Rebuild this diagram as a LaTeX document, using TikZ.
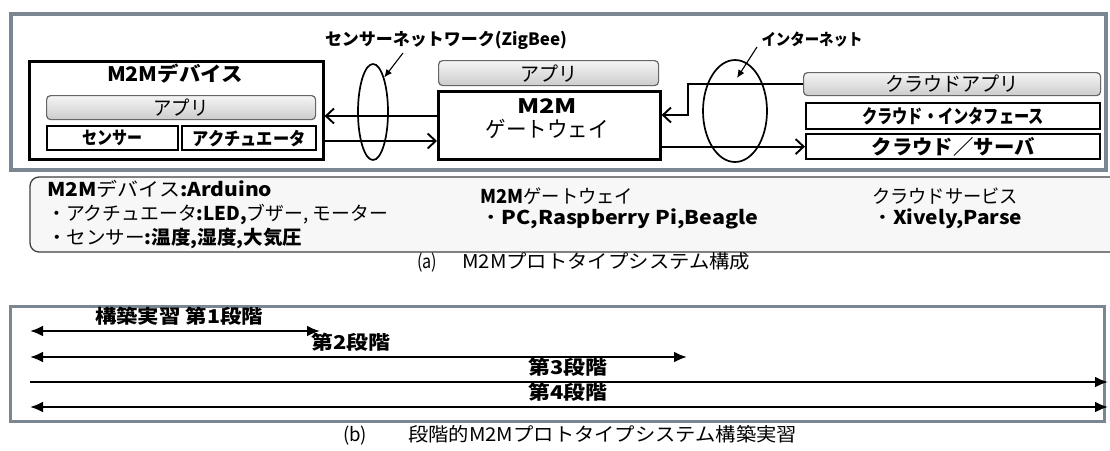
\documentclass[tikz,border=0pt]{standalone}
\usepackage{fontspec}
\usepackage{graphicx}
\setmainfont{Noto Sans CJK JP}
\usetikzlibrary{arrows.meta,shapes.geometric}
\definecolor{framegray}{RGB}{122,134,146}
\newcommand\fs[1]{\fontsize{#1pt}{#1pt}\selectfont}
\newcommand\fw[2]{\resizebox{#1pt}{\height}{#2}}
\begin{document}
\begin{tikzpicture}[x=1pt,y=-1pt,
  box/.style={draw,line width=2.6pt,anchor=north west,inner sep=0pt},
  sbox/.style={draw,line width=2.2pt,anchor=north west,inner sep=0pt},
  appbox/.style={draw=black!60,line width=1.2pt,rounded corners=4pt,top color=gray!8,bottom color=gray!40,anchor=north west,inner sep=0pt},
  lbl/.style={inner sep=0pt,text height=0.8em,text depth=0.2em},
  info/.style={lbl,anchor=west,font=\fs{19}},
  ell/.style={ellipse,draw,line width=1.7pt,inner sep=0pt},
  conn/.style={line width=1.9pt,-{Straight Barb[length=8pt,width=15pt]}},
  pointer/.style={line width=1.1pt,-{Latex[length=8pt,width=7pt]}},
  stage/.style={line width=2.3pt,{Latex[length=13pt,width=11pt]}-{Latex[length=13pt,width=11pt]}},
  stageR/.style={line width=2.3pt,-{Latex[length=13pt,width=11pt]}}
]
\useasboundingbox (0,0) rectangle (1110,450);
\fill[white] (0,0) rectangle (1110,450);

% ---------- (a) frame ----------
\draw[framegray,line width=3.5pt] (11,14) rectangle (1106,170);

% M2M device
\node[box,minimum width=294pt,minimum height=98pt] (dev) at (28,60) {};
\node[lbl,font=\fs{20}\bfseries] (devt) at (175,78) {\fw{136}{M2Mデバイス}};
\node[appbox,minimum width=269pt,minimum height=24pt,font=\fs{20}] (dapp) at (46,95) {\fw{55}{アプリ}};
\node[sbox,minimum width=131pt,minimum height=24pt,font=\fs{18}\bfseries] (sen) at (46,125) {\fw{60}{センサー}};
\node[sbox,minimum width=134pt,minimum height=24pt,font=\fs{18}\bfseries] (act) at (181,125) {\fw{113}{アクチュエータ}};

% gateway
\node[appbox,minimum width=220pt,minimum height=25pt,font=\fs{20}] (gapp) at (438,60) {\fw{57}{アプリ}};
\node[box,minimum width=222pt,minimum height=68pt] (gw) at (437,90) {};
\node[lbl,font=\fs{20}\bfseries] (gwt1) at (547,110) {\fw{60}{M2M}};
\node[lbl,font=\fs{22}] (gwt2) at (547,134) {\fw{123}{ゲートウェイ}};

% cloud
\node[appbox,minimum width=297pt,minimum height=23pt,font=\fs{20}] (capp) at (803,72) {\fw{134}{クラウドアプリ}};
\node[sbox,minimum width=294pt,minimum height=26pt,font=\fs{19}\bfseries] (cif) at (805,102) {\fw{182}{クラウド・インタフェース}};
\node[sbox,minimum width=294pt,minimum height=25pt,font=\fs{20}\bfseries] (csv) at (805,133) {\fw{163}{クラウド／サーバ}};

% networks
\node[ell,minimum width=30pt,minimum height=96pt] (e1) at (373,112) {};
\node[ell,minimum width=64pt,minimum height=102pt] (e2) at (735,111) {};
\node[lbl,font=\fs{17}\bfseries] (lzig) at (446,42) {\fw{242}{センサーネットワーク(ZigBee)}};
\node[lbl,font=\fs{16}\bfseries] (linet) at (812,42) {\fw{101}{インターネット}};
\coordinate (zt) at (403,53);
\draw[pointer] (zt) -- (e1.north east);
\coordinate (it) at (757,47);
\coordinate (ih) at (737,78);
\draw[pointer] (it) -- (ih);

% connectors
\coordinate (r1) at (0,116);
\coordinate (r2) at (0,141);
\draw[conn] (gw.west |- r1) -- (dev.east |- r1);
\draw[conn] (dev.east |- r2) -- (gw.west |- r2);
\coordinate (bend) at (688,115);
\draw[conn] (capp.west) -| (bend) -- (gw.east |- bend);
\draw[conn] (gw.east |- csv.west) -- (csv.west);

% ---------- info box ----------
\draw[draw=black!75,line width=1.3pt,fill=gray!6,rounded corners=9pt] (30,177) rectangle (1125,252);
\node[info] (i1) at (47,193) {\fw{225}{{\bfseries M2M}デバイス{\bfseries :Arduino}}};
\node[info] (i2) at (47,217) {\fw{341}{・アクチュエータ{\bfseries :LED,}ブザー, モーター}};
\node[info] (i3) at (47,241) {\fw{255}{・センサー{\bfseries :温度,湿度,大気圧}}};
\node[info] (g1) at (480,200) {\fw{153}{{\bfseries M2M}ゲートウェイ}};
\node[info] (g2) at (480,221) {\fw{278}{・{\bfseries PC,Raspberry Pi,Beagle}}};
\node[info] (c1) at (872,200) {\fw{146}{クラウドサービス}};
\node[info] (c2) at (872,221) {\fw{150}{・{\bfseries Xively,Parse}}};

% caption a
\node[lbl,anchor=west,font=\fs{19}] (capa) at (417,265) {\fw{20}{(a)}\hspace{25pt}\fw{288}{M2Mプロトタイプシステム構成}};

% ---------- (b) frame ----------
\draw[framegray,line width=3pt] (10,306) rectangle (1104,421);
\draw[stage] (30,331) -- (320,331);
\draw[stage] (30,357) -- (687,357);
\draw[stageR] (30,382) -- (1108,382);
\draw[stage] (30,407) -- (1108,407);
\node[lbl,font=\fs{19}\bfseries] (s1) at (179,320) {\fw{168}{構築実習 第1段階}};
\node[lbl,font=\fs{19}\bfseries] (s2) at (351,346) {\fw{79}{第2段階}};
\node[lbl,font=\fs{19}\bfseries] (s3) at (568,371) {\fw{79}{第3段階}};
\node[lbl,font=\fs{19}\bfseries] (s4) at (568,396) {\fw{79}{第4段階}};

% caption b
\node[lbl,anchor=west,font=\fs{19}] (capb) at (343,438) {\fw{24}{(b)}\hspace{41pt}\fw{389}{段階的M2Mプロトタイプシステム構築実習}};
\end{tikzpicture}
\end{document}
